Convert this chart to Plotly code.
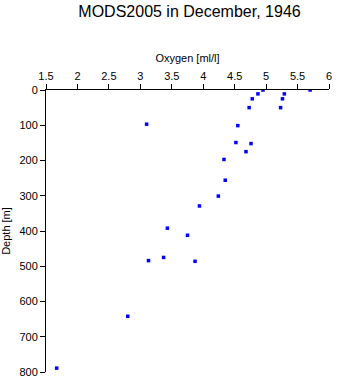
import plotly.graph_objects as go

oxygen = [4.95, 5.70, 4.87, 5.29, 4.78, 5.26, 4.73, 5.23, 4.55, 4.52, 4.76, 4.68,
          4.33, 4.35, 4.24, 3.94, 3.10, 3.43, 3.75, 3.37, 3.13, 3.87, 2.80, 1.67]
depth = [0, 0, 11, 11, 25, 25, 50, 50, 101, 149, 152, 175,
         197, 256, 301, 329, 97, 392, 412, 475, 484, 486, 642, 789]

title_text = "MODS2005 in December, 1946"
x_title = "Oxygen [ml/l]"
y_title = "Depth [m]"

fig = go.Figure()
fig.add_trace(go.Scatter(
    x=oxygen, y=depth, mode="markers",
    marker=dict(symbol="square", size=3.5, color="#0000ff", line=dict(width=0)),
    showlegend=False,
))

font = "Liberation Sans, Arial, sans-serif"
fig.update_layout(
    width=338, height=384,
    margin=dict(l=46, r=6, t=90, b=9),
    paper_bgcolor="white", plot_bgcolor="white",
    font=dict(family=font, size=11, color="black"),
    title=dict(text=title_text, x=189.5 / 338, xanchor="center", xref="container",
               y=1 - 11 / 384, yref="container", yanchor="middle",
               font=dict(size=16, family=font, color="black")),
    xaxis=dict(side="top", range=[1.5, 6], dtick=0.5, tick0=1.5,
               ticks="outside", ticklen=5, tickcolor="black", tickwidth=1,
               showline=True, linecolor="black", linewidth=1,
               showgrid=False, zeroline=False,
               title=dict(text=x_title, standoff=4, font=dict(size=11))),
    yaxis=dict(range=[800, 0], dtick=100, tick0=0,
               ticks="outside", ticklen=5, tickcolor="black", tickwidth=1,
               showline=True, linecolor="black", linewidth=1,
               showgrid=False, zeroline=False,
               title=dict(text=y_title, standoff=6, font=dict(size=11))),
)

fig.write_html("out.html")
